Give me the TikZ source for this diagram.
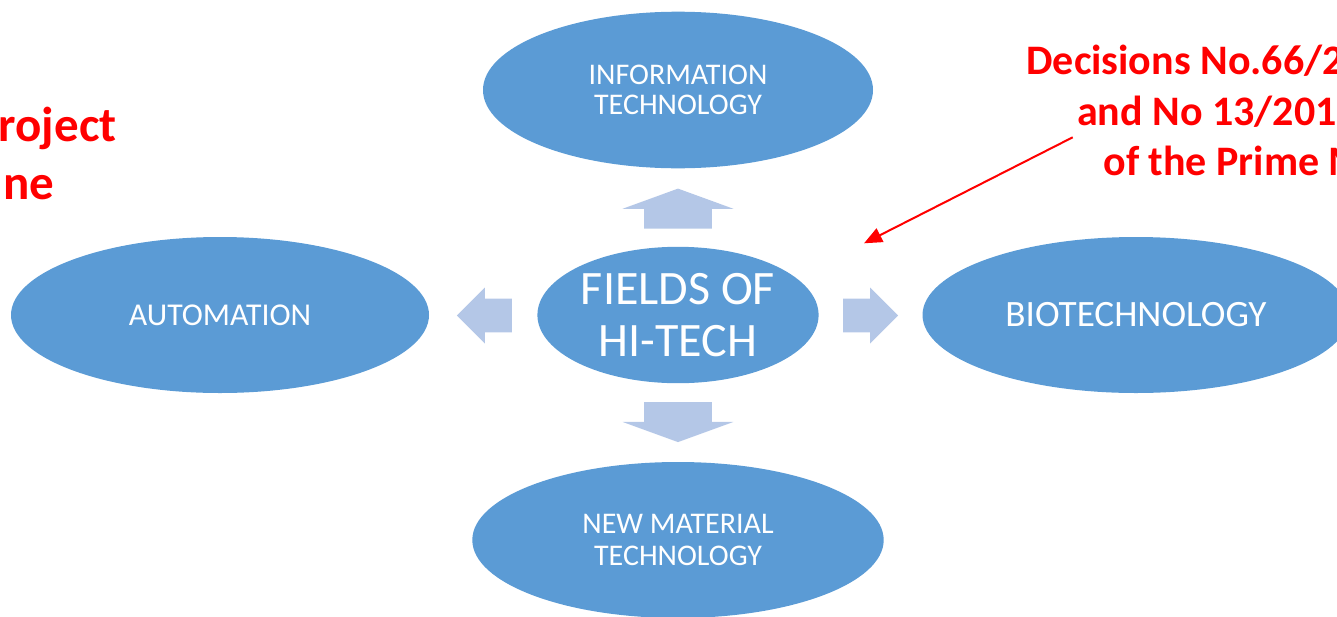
\documentclass[tikz,border=0pt]{standalone}
\usepackage{fontspec}
\setmainfont{Carlito}
\usetikzlibrary{shapes.geometric,shapes.arrows,arrows.meta}
\definecolor{fieldblue}{RGB}{91,155,213}
\definecolor{paleblue}{RGB}{180,199,231}
\definecolor{notered}{RGB}{255,0,0}
\tikzset{
  field/.style={ellipse, fill=fieldblue, inner sep=0pt, text=white, align=center},
  vblock/.style={single arrow, fill=paleblue, inner xsep=0pt, inner ysep=16.75pt,
    single arrow head extend=10.75pt, single arrow tip angle=140,
    minimum width=55pt, minimum height=20pt, anchor=tail},
  hblock/.style={single arrow, fill=paleblue, inner xsep=0pt, inner ysep=8.2pt,
    single arrow head extend=5.6pt, single arrow tip angle=90,
    minimum width=27.5pt, minimum height=27.5pt, anchor=tail},
  note/.style={inner sep=0pt, text=notered, font=\bfseries\fontsize{21}{25.5}\selectfont}
}
\begin{document}
\begin{tikzpicture}[x=0.5pt,y=-0.5pt]
      \useasboundingbox (0,0) rectangle (1337,616);
      \clip (0,0) rectangle (1337,616);

      \node[field, minimum width=140.6pt, minimum height=68.2pt, font=\fontsize{24}{25.8}\selectfont](hub) at (678,315){FIELDS OF\\HI-TECH};
      \node[field, minimum width=195pt, minimum height=78.3pt, font=\fontsize{15}{15}\selectfont](info) at (678,90){INFORMATION\\TECHNOLOGY};
      \node[field, minimum width=209pt, minimum height=78pt, font=\fontsize{15.9}{18}\selectfont](auto) at (220,315){AUTOMATION};
      \node[field, minimum width=213.5pt, minimum height=78pt, font=\fontsize{18.6}{20}\selectfont](bio) at (1136,315){BIOTECHNOLOGY};
      \node[field, minimum width=205.7pt, minimum height=78pt, font=\fontsize{15}{15.8}\selectfont](newmat) at (678,540){NEW MATERIAL\\TECHNOLOGY};

      \node[vblock, rotate=90](upblk) at (678,229){};
      \node[vblock, rotate=-90](downblk) at (678,401.7){};
      \node[hblock, rotate=180](leftblk) at (512.3,315.5){};
      \node[hblock](rightblk) at (842.7,315.5){};

      \node[note, font=\bfseries\fontsize{24.5}{29}\selectfont, anchor=base east](proj1) at (117,141){roject};
      \node[note, font=\bfseries\fontsize{24.5}{29}\selectfont, anchor=base east](proj2) at (55,199){ne};

      \node[note, anchor=base west](dec1) at (1026,74){Decisions No.66/2};
      \node[note, anchor=base west](dec2) at (1076.7,125){and No 13/201};
      \node[note, anchor=base west](dec3) at (1103,175.7){of the Prime M};

      \coordinate (notetail) at (1072.7,137.3);
      \coordinate (notetip) at (864,243.3);
      \draw[notered, line width=1pt, -{Triangle[length=9pt,width=7.5pt]}] (notetail) -- (notetip);
\end{tikzpicture}
\end{document}
